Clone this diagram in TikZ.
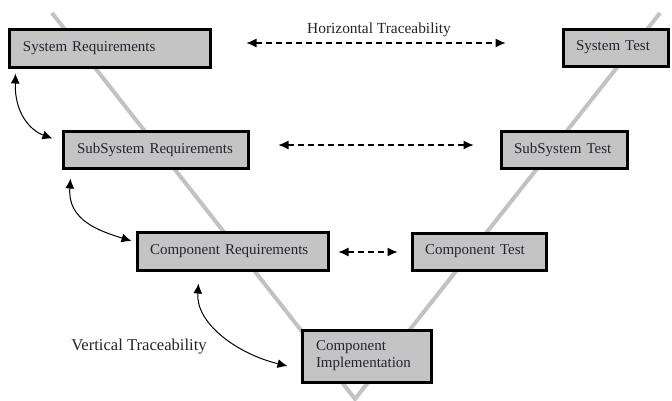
\documentclass[tikz,border=0pt]{standalone}
\usepackage{fontspec}
\setmainfont{Liberation Serif}
\usetikzlibrary{arrows.meta,calc}
\definecolor{boxfill}{HTML}{C4C4C4}
\definecolor{vline}{HTML}{C2C2C2}
\definecolor{ink}{HTML}{24242F}
\tikzset{
  stage/.style={draw=black, line width=3pt, fill=boxfill, rectangle,
    inner sep=0pt, text=ink, align=left,
    font=\fontsize{15}{17}\selectfont},
  trace/.style={{Latex[length=10pt,width=9pt]}-{Latex[length=10pt,width=9pt]},
    line width=1.1pt, dash pattern=on 6pt off 4pt},
  vtrace/.style={{Latex[length=10pt,width=9pt]}-{Latex[length=10pt,width=9pt]},
    line width=1pt},
  lbl/.style={text=ink, inner sep=0pt}
}
\begin{document}
\begin{tikzpicture}[x=1pt,y=-1pt]
  \useasboundingbox (0,0) rectangle (672,400);
  \fill[white] (0,0) rectangle (672,400);

  % the V of the development cycle
  \draw[vline, line width=4pt] (52,13) -- (355,399) -- (660,13);

  % stages, left side
  \node[stage, minimum width=201pt, minimum height=38pt, text width=173pt]
    (sysreq) at (109.5,48) {System Requirements};
  \node[stage, minimum width=185pt, minimum height=37pt, text width=157pt]
    (subreq) at (155.5,149.5) {SubSystem Requirements};
  \node[stage, minimum width=191pt, minimum height=38pt, text width=165pt]
    (compreq) at (232.5,251) {Component Requirements};
  \node[stage, minimum width=129pt, minimum height=52pt, text width=101pt]
    (compimpl) at (366.5,356) {Component\\Implementation};

  % stages, right side
  \node[stage, minimum width=105pt, minimum height=37pt, text width=79pt]
    (systest) at (615.5,47.5) {System Test};
  \node[stage, minimum width=126pt, minimum height=37pt, text width=100pt]
    (subtest) at (564,149.5) {SubSystem Test};
  \node[stage, minimum width=134pt, minimum height=37pt, text width=108pt]
    (comptest) at (479,251.5) {Component Test};

  % horizontal traceability
  \coordinate (h1a) at ($(sysreq.east)+(35,-5)$);
  \coordinate (h1b) at ($(systest.west)+(-56,-4.5)$);
  \draw[trace] (h1a) -- (h1b);
  \node[lbl, font=\fontsize{15.4}{17}\selectfont] (htlabel) at (379,30) {Horizontal Traceability};

  \coordinate (h2a) at ($(subreq.east)+(29,-4.5)$);
  \coordinate (h2b) at ($(subtest.west)+(-26,-4.5)$);
  \draw[trace] (h2a) -- (h2b);

  \coordinate (h3a) at ($(compreq.east)+(9,1)$);
  \coordinate (h3b) at ($(comptest.west)+(-13,0.5)$);
  \draw[trace] (h3a) -- (h3b);

  % vertical traceability
  \coordinate (v1a) at ($(sysreq.south west)+(8,5)$);
  \coordinate (v1b) at ($(subreq.west)+(-9,-11)$);
  \draw[vtrace] (v1a) .. controls ($(v1a)+(-1,40)$) and ($(v1b)+(-22,-8)$) .. (v1b);

  \coordinate (v2a) at ($(subreq.south west)+(9,9)$);
  \coordinate (v2b) at ($(compreq.west)+(-4,-10)$);
  \draw[vtrace] (v2a) .. controls ($(v2a)+(-3,42)$) and ($(v2b)+(-32,-10)$) .. (v2b);

  \coordinate (v3a) at ($(compreq.south west)+(63,12)$);
  \coordinate (v3b) at ($(compimpl.west)+(-13,10)$);
  \draw[vtrace] (v3a) .. controls ($(v3a)+(-3,40)$) and ($(v3b)+(-50,-12)$) .. (v3b);

  \node[lbl, font=\fontsize{16.6}{19}\selectfont] (vtlabel) at (139,347) {Vertical Traceability};
\end{tikzpicture}
\end{document}
